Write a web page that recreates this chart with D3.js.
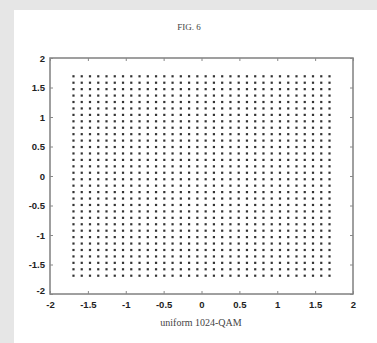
<!DOCTYPE html>
<html>
<head>
<meta charset="utf-8">
<style>
  body { margin: 0; background: #e6e6e6; }
  svg { display: block; }
  .tick text { font: bold 9.5px "Liberation Sans", Arial, sans-serif; fill: #222; }
  .caption { font: 10px "Liberation Serif", "Times New Roman", serif; fill: #444; }
</style>
</head>
<body>
<svg width="377" height="343"></svg>
<script src="https://d3js.org/d3.v7.min.js"></script>
<script>
// constellation levels (same on I and Q axes)
const levels = [-1.690, -1.581, -1.472, -1.363, -1.254, -1.145, -1.036, -0.927,
  -0.818, -0.709, -0.600, -0.491, -0.382, -0.273, -0.164, -0.055,
  0.055, 0.164, 0.273, 0.382, 0.491, 0.600, 0.709, 0.818,
  0.927, 1.036, 1.145, 1.254, 1.363, 1.472, 1.581, 1.690];
const xTicks = [-2, -1.5, -1, -0.5, 0, 0.5, 1, 1.5, 2];
const yTicks = [-2, -1.5, -1, -0.5, 0, 0.5, 1, 1.5, 2];

const svg = d3.select("svg");

// white page panel
svg.append("rect").attr("x", 14).attr("y", 10).attr("width", 363).attr("height", 333).attr("fill", "#fff");

const mLeft = 50, mRight = 353, mTop = 58, mBottom = 294;
const x = d3.scaleLinear().domain([-2, 2]).range([mLeft, mRight]);
const y = d3.scaleLinear().domain([-2, 2]).range([mBottom, mTop]);

const points = [];
levels.forEach(i => levels.forEach(q => points.push([i, q])));

svg.append("g").selectAll("rect")
  .data(points)
  .enter().append("rect")
  .attr("x", d => x(d[0]) - 1.1)
  .attr("y", d => y(d[1]) - 1.1)
  .attr("width", 2.2)
  .attr("height", 2.2)
  .attr("fill", "#333");

// frame
svg.append("rect")
  .attr("x", mLeft).attr("y", mTop)
  .attr("width", mRight - mLeft).attr("height", mBottom - mTop)
  .attr("fill", "none").attr("stroke", "#808080").attr("stroke-width", 1.5);

// axes with inward ticks
const fmt = d => String(d);
const xAxis = svg.append("g").attr("transform", `translate(0,${mBottom})`)
  .call(d3.axisBottom(x).tickValues(xTicks).tickFormat(fmt).tickSize(-3).tickPadding(7));
const yAxis = svg.append("g").attr("transform", `translate(${mLeft},0)`)
  .call(d3.axisLeft(y).tickValues(yTicks).tickFormat(fmt).tickSize(-3).tickPadding(5));
svg.append("g").attr("transform", `translate(0,${mTop})`)
  .call(d3.axisTop(x).tickValues(xTicks).tickFormat("").tickSize(-3));
svg.append("g").attr("transform", `translate(${mRight},0)`)
  .call(d3.axisRight(y).tickValues(yTicks).tickFormat("").tickSize(-3));

svg.selectAll(".domain").remove();
svg.selectAll(".tick line").attr("stroke", "#888");

// overlapping -2 labels at the origin corner like the reference
yAxis.selectAll(".tick text").filter(d => d === -2).attr("dy", "-0.1em");

svg.append("text").attr("class", "caption")
  .attr("x", 189).attr("y", 30).attr("text-anchor", "middle").style("font-size", "9px")
  .text("FIG. 6");
svg.append("text").attr("class", "caption")
  .attr("x", 201).attr("y", 326).attr("text-anchor", "middle")
  .text("uniform 1024-QAM");
</script>
</body>
</html>
